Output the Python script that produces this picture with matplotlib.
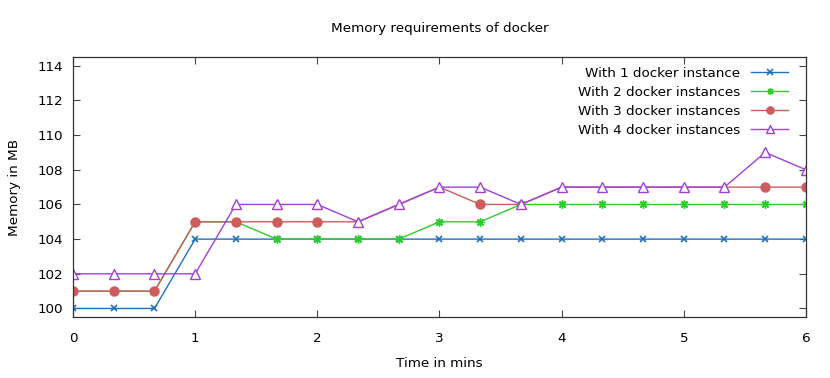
import matplotlib
matplotlib.use('Agg')
import matplotlib.pyplot as plt
from matplotlib.lines import Line2D
import numpy as np

# samples every 20 s, plotted in minutes
time_min = np.arange(19) / 3.0

mem_1 = [100, 100, 100, 104, 104, 104, 104, 104, 104, 104,
         104, 104, 104, 104, 104, 104, 104, 104, 104]
mem_2 = [101, 101, 101, 105, 105, 104, 104, 104, 104, 105,
         105, 106, 106, 106, 106, 106, 106, 106, 106]
mem_3 = [101, 101, 101, 105, 105, 105, 105, 105, 106, 107,
         106, 106, 107, 107, 107, 107, 107, 107, 107]
mem_4 = [102, 102, 102, 102, 106, 106, 106, 105, 106, 107,
         107, 106, 107, 107, 107, 107, 107, 109, 108]

labels = ['With 1 docker instance', 'With 2 docker instances',
          'With 3 docker instances', 'With 4 docker instances']

plt.rcParams['font.family'] = ['DejaVu Sans']
plt.rcParams['font.size'] = 9.7

fig = plt.figure(figsize=(8.3, 3.78), dpi=100)
ax = fig.add_axes([0.088, 0.161, 0.883, 0.688])

c1, c2, c3, c4 = '#1f6fbf', '#2ecc2e', '#cd5c5c', '#a040d8'
st1 = dict(color=c1, lw=1.0, marker='x', ms=5, mew=1.2)
st2 = dict(color=c2, lw=1.0, marker=(8, 2, 0), ms=6, mew=1.0)
st3 = dict(color=c3, lw=1.0, marker='o', ms=6.5)
st4 = dict(color=c4, lw=1.0, marker='^', ms=7, mfc='white', mew=1.0)

ax.plot(time_min, mem_1, **st1)
ax.plot(time_min, mem_2, **st2)
# red points that sit under a purple triangle are hidden in the original
m3 = np.array(mem_3)
vis = m3 != np.array(mem_4)
ax.plot(time_min, mem_3, color=c3, lw=1.0)
ax.plot(time_min[vis], m3[vis], ls='none', marker='o', ms=6.5, color=c3)
ax.plot(time_min, mem_4, **st4)

ax.set_xlim(0, 6)
ax.set_ylim(99.5, 114.5)
ax.set_xticks(range(0, 7))
ax.set_yticks(range(100, 115, 2))
ax.tick_params(direction='in', top=True, right=True, length=5, color='#444444')
ax.tick_params(axis='x', pad=11)
ax.tick_params(axis='y', pad=7)
for s in ax.spines.values():
    s.set_color('#333333')
    s.set_linewidth(0.9)

ax.set_title('Memory requirements of docker', fontsize=9.7, pad=18)
ax.set_xlabel('Time in mins', labelpad=8)
ax.set_ylabel('Memory in MB', labelpad=12)

handles = [Line2D([], [], **st) for st in (st1, st2, st3, st4)]
ax.legend(handles, labels, loc='upper right', bbox_to_anchor=(0.989, 1.0),
          frameon=False, markerfirst=False,
          handlelength=2.8, handletextpad=0.8, labelspacing=0.45,
          borderaxespad=0.4, borderpad=0.3, fontsize=9.7, markerscale=0.8)

fig.savefig('out.png', dpi=100)
